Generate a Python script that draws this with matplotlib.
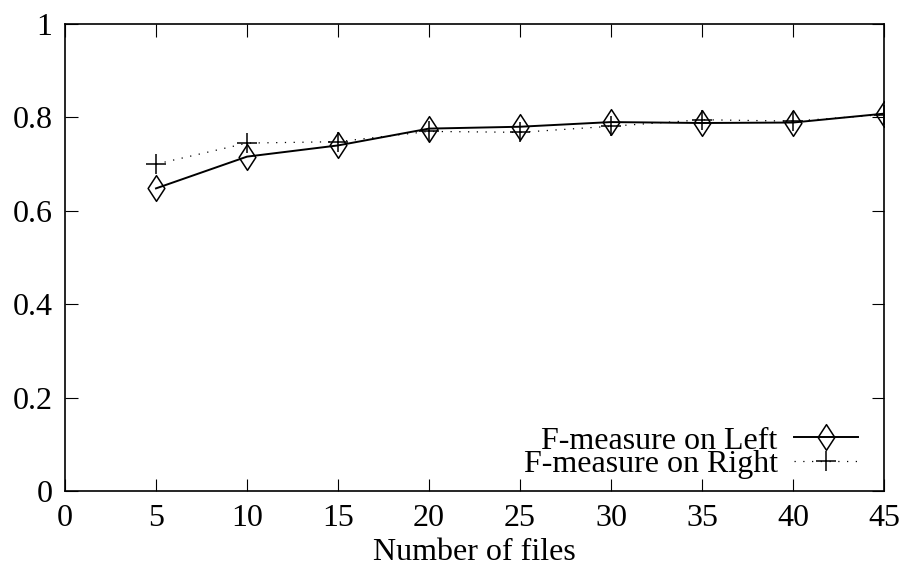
import matplotlib
matplotlib.use("Agg")
import matplotlib.pyplot as plt
from matplotlib.path import Path

files = [5, 10, 15, 20, 25, 30, 35, 40, 45]
left = [0.648, 0.716, 0.740, 0.776, 0.780, 0.790, 0.788, 0.789, 0.808]
right = [0.700, 0.745, 0.748, 0.770, 0.768, 0.781, 0.795, 0.792, 0.806]
xticks = [0, 5, 10, 15, 20, 25, 30, 35, 40, 45]
yticks = [0, 0.2, 0.4, 0.6, 0.8, 1]
ytick_labels = ["0", "0.2", "0.4", "0.6", "0.8", "1"]

plt.rcParams['font.family'] = ['Liberation Serif', 'DejaVu Serif']

diamond = Path([(0, 1), (0.65, 0), (0, -1), (-0.65, 0), (0, 1)],
               [Path.MOVETO, Path.LINETO, Path.LINETO, Path.LINETO, Path.CLOSEPOLY])

fig = plt.figure(figsize=(9.04, 5.70), dpi=100)
ax = fig.add_axes([65/904, 1 - 491/570, (884-65)/904, (491-24)/570])

ax.plot(files, left, color='black', lw=1.4, marker=diamond, markersize=18.5,
        markerfacecolor='none', markeredgecolor='black', markeredgewidth=1.1,
        label='F-measure on Left')
ax.plot(files, right, color='black', lw=0.9, linestyle=(0, (1, 6)), marker='+',
        markersize=14.5, markeredgewidth=1.1, label='F-measure on Right')

ax.set_xlim(0, 45)
ax.set_ylim(0, 1)
ax.set_xticks(xticks)
ax.set_yticks(yticks)
ax.set_yticklabels(ytick_labels)
ax.tick_params(direction='in', length=9, width=0.8, labelsize=23,
               top=True, right=True)
ax.tick_params(axis='y', pad=9)
ax.tick_params(axis='x', pad=9)
for s in ax.spines.values():
    s.set_linewidth(1.2)
ax.set_xlabel('Number of files', fontsize=23, labelpad=4)

leg = ax.legend(loc='lower right', frameon=False, fontsize=23, markerfirst=False,
                handlelength=2.0, handletextpad=0.5, labelspacing=-0.18,
                borderaxespad=0.0, bbox_to_anchor=(0.9835, -0.002))

fig.savefig('out.png', dpi=100)
